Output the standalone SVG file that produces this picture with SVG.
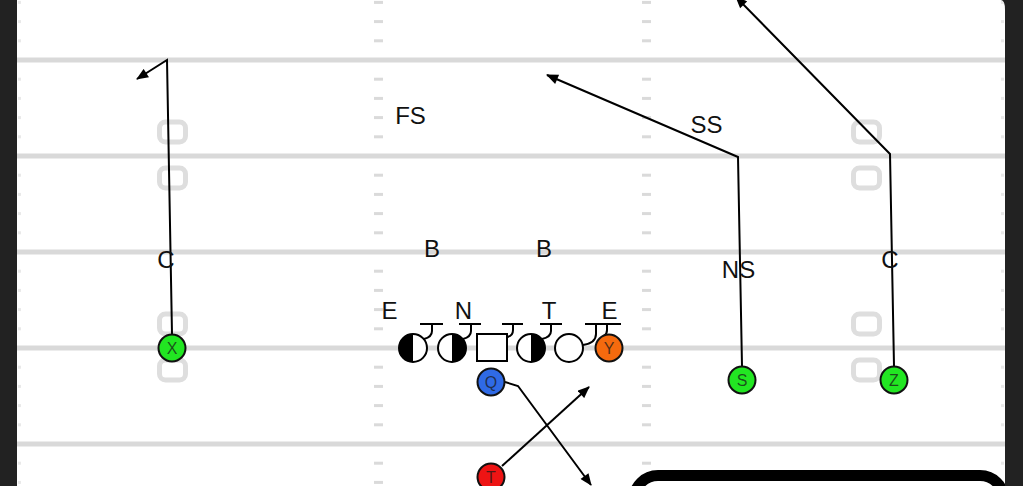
<svg xmlns="http://www.w3.org/2000/svg" width="1023" height="486" viewBox="0 0 1023 486">
<style>
.yl{stroke:#d9d9d9;stroke-width:5}
.num{fill:none;stroke:#dedede;stroke-width:5}
.lbl{font-family:"Liberation Sans",Arial,sans-serif;font-size:24px;fill:#111;text-anchor:middle}
.pl{stroke:#111;stroke-width:2}
.pt{font-family:"Liberation Sans",Arial,sans-serif;font-size:16px;fill:#1a1a1a;fill-opacity:0.75;text-anchor:middle}
.ol{fill:#fff;stroke:#000;stroke-width:2}
.blk{fill:none;stroke:#000;stroke-width:2}
.rt{fill:none;stroke:#000;stroke-width:2}
</style>
<defs>
<pattern id="hash" x="0" y="60" width="12" height="96" patternUnits="userSpaceOnUse">
<rect x="0" y="17.7" width="12" height="3" fill="#dadada"/>
<rect x="0" y="36.9" width="12" height="3" fill="#dadada"/>
<rect x="0" y="56.1" width="12" height="3" fill="#dadada"/>
<rect x="0" y="75.3" width="12" height="3" fill="#dadada"/>
</pattern>
<marker id="ah" viewBox="0 0 12 10" refX="11" refY="5" markerWidth="13" markerHeight="10" markerUnits="userSpaceOnUse" orient="auto">
<path d="M0,0 L12,5 L0,10 Z" fill="#000"/>
</marker>
<g id="numpair">
<rect x="-13" y="-34" width="26" height="20" rx="6" class="num"/>
<rect x="-13" y="12" width="26" height="20" rx="6" class="num"/>
</g>
</defs>
<rect width="1023" height="486" fill="#fff"/>
<g id="field">
<line class="yl" x1="17" y1="60" x2="1005" y2="60"/>
<line class="yl" x1="17" y1="156" x2="1005" y2="156"/>
<line class="yl" x1="17" y1="252" x2="1005" y2="252"/>
<line class="yl" x1="17" y1="348" x2="1005" y2="348"/>
<line class="yl" x1="17" y1="444" x2="1005" y2="444"/>
<rect x="374" y="0" width="9" height="486" fill="url(#hash)"/>
<rect x="642" y="0" width="9" height="486" fill="url(#hash)"/>
<rect x="18" y="0" width="3" height="486" fill="url(#hash)" opacity="0.6"/>
<rect x="1001" y="0" width="3" height="486" fill="url(#hash)" opacity="0.6"/>
<use href="#numpair" x="172.5" y="-37"/>
<use href="#numpair" x="172.5" y="156"/>
<use href="#numpair" x="172.5" y="348"/>
<use href="#numpair" x="866.5" y="-37"/>
<use href="#numpair" x="866.5" y="156"/>
<use href="#numpair" x="866.5" y="348"/>
</g>
<g id="connectors">
<polyline class="rt" points="172,334 167,60 137,79" marker-end="url(#ah)"/>
<polyline class="rt" points="742,366 738,157 547,75" marker-end="url(#ah)"/>
<polyline class="rt" points="894,366 890,154 736,-3" marker-end="url(#ah)"/>
<polyline class="rt" points="505,382 518,386 591,485" marker-end="url(#ah)"/>
<polyline class="rt" points="502,466 589,387" marker-end="url(#ah)"/>
</g>
<g id="defense">
<text class="lbl" x="410.5" y="124">FS</text>
<text class="lbl" x="706.5" y="133">SS</text>
<text class="lbl" x="432" y="257">B</text>
<text class="lbl" x="544" y="257">B</text>
<text class="lbl" x="738.5" y="278">NS</text>
<text class="lbl" x="166" y="268">C</text>
<text class="lbl" x="890" y="268">C</text>
<text class="lbl" x="389.5" y="319">E</text>
<text class="lbl" x="463.5" y="319">N</text>
<text class="lbl" x="549" y="319">T</text>
<text class="lbl" x="609.5" y="319">E</text>
</g>
<g id="blocks">
<path class="blk" d="M420,324 H443 M432,324 V331 Q432,337 424,339"/>
<path class="blk" d="M459,324 H481 M471,324 V331 Q471,337 463,339"/>
<path class="blk" d="M502,324 H523 M513,324 V330 Q513,336 507,337"/>
<path class="blk" d="M540,324 H562 M551,324 V331 Q551,337 542,339"/>
<path class="blk" d="M585,324 H621 M596,324 V334 Q596,343 583,345 M607,324 V330 Q607,334 604,336"/>
</g>
<g id="lt">
<circle class="ol" cx="413" cy="348" r="14"/>
<path d="M413,334 A14,14 0 0 0 413,362 Z" fill="#000"/>
</g>
<g id="lg">
<circle class="ol" cx="452" cy="348" r="14"/>
<path d="M452,334 A14,14 0 0 1 452,362 Z" fill="#000"/>
</g>
<g id="center">
<rect class="ol" x="477" y="334" width="30" height="27"/>
</g>
<g id="rg">
<circle class="ol" cx="531" cy="348" r="14"/>
<path d="M531,334 A14,14 0 0 1 531,362 Z" fill="#000"/>
</g>
<g id="rt">
<circle class="ol" cx="569" cy="348" r="14"/>
</g>
<g id="Y">
<circle class="pl" cx="609" cy="348" r="13.5" fill="#f56a0e"/>
<text class="pt" x="609" y="354">Y</text>
</g>
<g id="X">
<circle class="pl" cx="172" cy="348" r="13.5" fill="#22e622"/>
<text class="pt" x="172" y="354">X</text>
</g>
<g id="S">
<circle class="pl" cx="742" cy="380" r="13.5" fill="#22e622"/>
<text class="pt" x="742" y="386">S</text>
</g>
<g id="Z">
<circle class="pl" cx="894" cy="380" r="13.5" fill="#22e622"/>
<text class="pt" x="894" y="386">Z</text>
</g>
<g id="Q">
<circle class="pl" cx="491" cy="382" r="13.5" fill="#2f6ae6"/>
<text class="pt" x="491" y="388">Q</text>
</g>
<g id="T">
<circle class="pl" cx="491" cy="477" r="13.5" fill="#ee1414"/>
<text class="pt" x="491" y="483">T</text>
</g>
<g id="frame">
<rect x="634" y="475.5" width="370" height="60" rx="24" fill="#fff" stroke="#000" stroke-width="11"/>
<rect x="0" y="0" width="17" height="486" fill="#222"/>
<path d="M1023,0 V486 H1005 V10 Q1005,0 1001,0 Z" fill="#222"/>
</g>
</svg>
